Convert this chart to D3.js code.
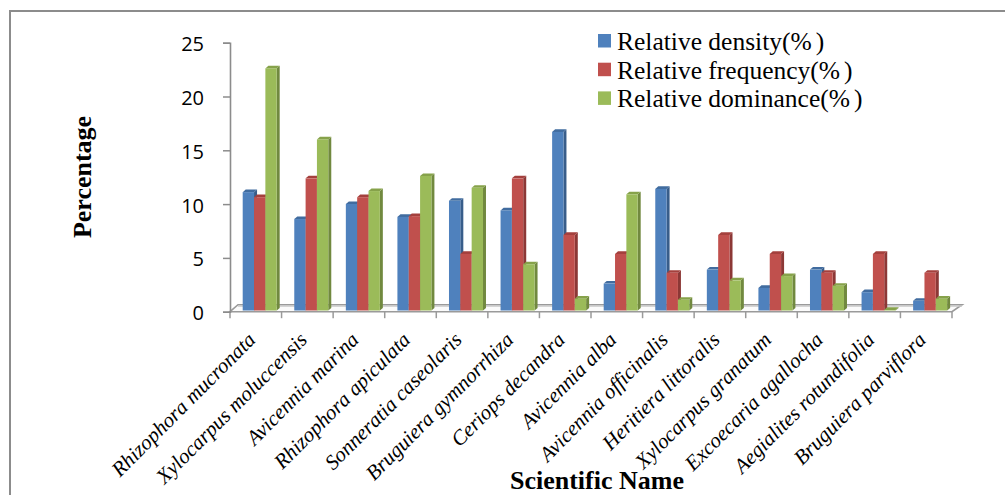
<!DOCTYPE html>
<html>
<head>
<meta charset="utf-8">
<script src="https://cdn.jsdelivr.net/npm/d3@7/dist/d3.min.js"></script>
<style>
  html, body { margin: 0; padding: 0; background: #fff; }
  svg { display: block; }
</style>
</head>
<body>
<svg id="chart" width="1005" height="495"></svg>
<script>
// Mangrove species and their importance-value components (%)
const categories = [
  "Rhizophora mucronata", "Xylocarpus moluccensis", "Avicennia marina",
  "Rhizophora apiculata", "Sonneratia caseolaris", "Bruguiera gymnorrhiza",
  "Ceriops decandra", "Avicennia alba", "Avicennia officinalis",
  "Heritiera littoralis", "Xylocarpus granatum", "Excoecaria agallocha",
  "Aegialites rotundifolia", "Bruguiera parviflora"
];
const seriesNames = ["Relative density(%)", "Relative frequency(%)", "Relative dominance(%)"];
const relativeDensity   = [11.0, 8.5, 9.9, 8.7, 10.2, 9.3, 16.6, 2.5, 11.3, 3.8, 2.1, 3.8, 1.7, 0.9];
const relativeFrequency = [10.53, 12.28, 10.53, 8.77, 5.26, 12.28, 7.02, 5.26, 3.51, 7.02, 5.26, 3.51, 5.26, 3.51];
const relativeDominance = [22.5, 15.9, 11.1, 12.5, 11.4, 4.3, 1.1, 10.8, 1.0, 2.8, 3.2, 2.3, 0.05, 1.1];
const yTicks = [0, 5, 10, 15, 20, 25];

const seriesValues = [relativeDensity, relativeFrequency, relativeDominance];
const frontColors = ["#4F81BD", "#C0504D", "#9BBB59"];
const sideColors  = ["#385D8A", "#8C3836", "#71893F"];
const topColors   = ["#416C9F", "#A4403D", "#86A24A"];

const svg = d3.select("#chart");

// outer frame (left and top edges)
svg.append("path")
  .attr("d", "M10,495 L10,11 L1005,11")
  .attr("fill", "none").attr("stroke", "#8c8c8c").attr("stroke-width", 2);

const plotLeft = 230, plotRight = 952;
const x = d3.scaleBand().domain(categories).range([plotLeft, plotRight]).padding(0);
const inner = d3.scaleBand().domain(d3.range(3)).range([12.7, 46.7]).padding(0);
const y = d3.scaleLinear().domain([0, 25]).range([311.7, 42.7]);

// 3-D projection offsets
const depthX = 8, depthY = -7;       // floor depth
const barDX = 3, barDY = -2.6;       // bar depth
const barShiftY = -1.2;              // bars sit slightly behind the front edge

// floor slab
const floorY = y(0);
const floor = svg.append("g").attr("fill", "none").attr("stroke", "#9a9a9a").attr("stroke-width", 1.6);
floor.append("path").attr("d",
  `M${plotLeft},${floorY} L${plotLeft + depthX},${floorY + depthY} L${plotRight + depthX + 2},${floorY + depthY} L${plotRight},${floorY} Z`)
  .attr("fill", "#fbfbfb");
floor.append("line")
  .attr("x1", plotLeft + depthX).attr("x2", plotRight + depthX + 2)
  .attr("y1", floorY + depthY + 1.3).attr("y2", floorY + depthY + 1.3)
  .attr("stroke", "#c8c8c8").attr("stroke-width", 1.4);

// category tick marks on the front edge
svg.append("g").selectAll("line")
  .data(d3.range(categories.length + 1))
  .join("line")
  .attr("x1", i => plotLeft + i * x.bandwidth())
  .attr("x2", i => plotLeft + i * x.bandwidth())
  .attr("y1", floorY).attr("y2", floorY + 6.5)
  .attr("stroke", "#9a9a9a").attr("stroke-width", 1.5);

// value axis
const yAxis = svg.append("g")
  .attr("transform", `translate(${plotLeft},0)`)
  .call(d3.axisLeft(y).tickValues(yTicks).tickSize(7).tickPadding(19).tickFormat(d3.format("d")));
yAxis.select(".domain").attr("stroke", "#8c8c8c").attr("stroke-width", 1.6);
yAxis.selectAll(".tick line").attr("stroke", "#8c8c8c").attr("stroke-width", 1.5);
yAxis.selectAll(".tick text")
  .attr("font-family", "'Open Sans', 'Noto Sans', sans-serif")
  .attr("font-size", 20).attr("fill", "#000").attr("dy", "0.4em");

// bars: front, side and top faces, drawn left to right inside each group
const bars = [];
categories.forEach((c, ci) => {
  seriesValues.forEach((vals, si) => {
    bars.push({ c, si, v: vals[ci] });
  });
});
const barG = svg.append("g");
const groups = barG.selectAll("g.bar").data(bars).join("g").attr("class", "bar");
groups.each(function (d) {
  const g = d3.select(this);
  const x0 = x(d.c) + inner(d.si);
  const w = inner.bandwidth();
  const yb = y(0) + barShiftY;
  const yt = y(d.v) + barShiftY;
  // side face
  g.append("path")
    .attr("d", `M${x0 + w},${yb} L${x0 + w + barDX},${yb + barDY} L${x0 + w + barDX},${yt + barDY} L${x0 + w},${yt} Z`)
    .attr("fill", sideColors[d.si]);
  // top face
  g.append("path")
    .attr("d", `M${x0},${yt} L${x0 + barDX},${yt + barDY} L${x0 + w + barDX},${yt + barDY} L${x0 + w},${yt} Z`)
    .attr("fill", topColors[d.si]);
  // front face
  g.append("rect")
    .attr("x", x0).attr("y", yt).attr("width", w).attr("height", yb - yt)
    .attr("fill", frontColors[d.si]);
});

// category labels
svg.append("g").selectAll("text")
  .data(categories)
  .join("text")
  .attr("transform", c => `translate(${x(c) + x.bandwidth() / 2 + 1},${341}) rotate(-45)`)
  .attr("text-anchor", "end")
  .attr("font-family", "'Liberation Serif', 'Times New Roman', serif")
  .attr("font-style", "italic")
  .attr("font-size", 21)
  .attr("fill", "#000")
  .text(c => c);

// axis titles
svg.append("text")
  .attr("transform", "translate(91,177) rotate(-90)")
  .attr("text-anchor", "middle")
  .attr("font-family", "'Liberation Serif', 'Times New Roman', serif")
  .attr("font-weight", "bold").attr("font-size", 26)
  .text("Percentage");
svg.append("text")
  .attr("x", 597).attr("y", 489)
  .attr("text-anchor", "middle")
  .attr("font-family", "'Liberation Serif', 'Times New Roman', serif")
  .attr("font-weight", "bold").attr("font-size", 26)
  .text("Scientific Name");

// legend
const legend = svg.append("g").attr("transform", "translate(598,34)");
const items = legend.selectAll("g").data(seriesNames).join("g")
  .attr("transform", (d, i) => `translate(0,${i * 28.7})`);
items.append("rect").attr("width", 13).attr("height", 13.5)
  .attr("fill", (d, i) => frontColors[i]);
const lt = items.append("text")
  .attr("x", 19).attr("y", 16)
  .attr("font-family", "'Liberation Serif', 'Times New Roman', serif")
  .attr("font-size", 25.5).attr("fill", "#000");
lt.append("tspan").text(d => d.slice(0, -1));
lt.append("tspan").attr("dx", 4).text(")");
</script>
</body>
</html>
